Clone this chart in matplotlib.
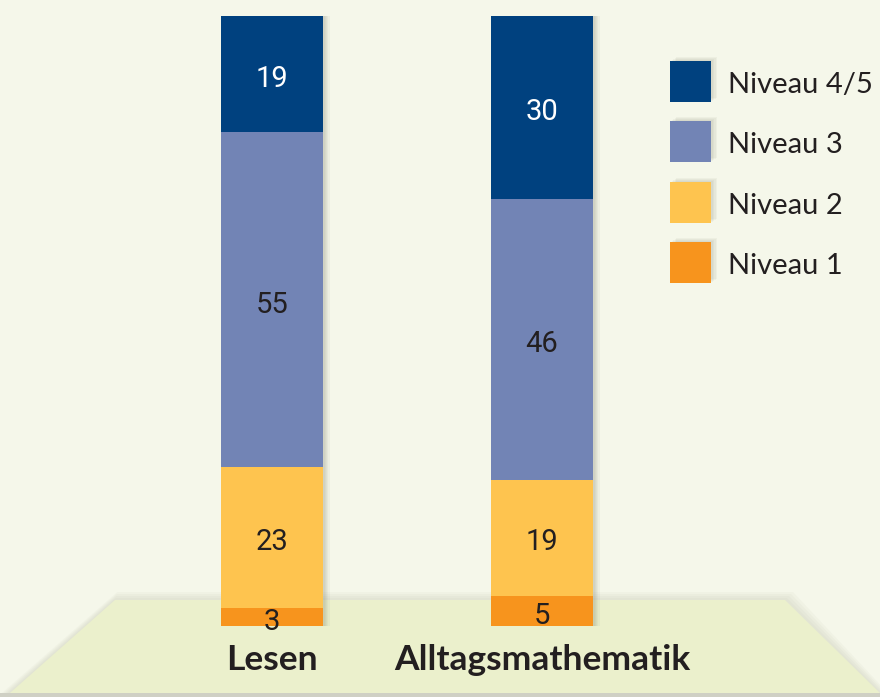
import matplotlib
matplotlib.use("Agg")
import matplotlib.pyplot as plt
from matplotlib.patches import Rectangle, Polygon
import numpy as np

# ---- data (percent of pupils per competence level) ----
categories = ["Lesen", "Alltagsmathematik"]
levels = ["Niveau 1", "Niveau 2", "Niveau 3", "Niveau 4/5"]
niveau_1 = [3, 5]
niveau_2 = [23, 19]
niveau_3 = [55, 46]
niveau_45 = [19, 30]
series = [niveau_1, niveau_2, niveau_3, niveau_45]

BG = "#f5f7ea"
FLOOR = "#ebf0cc"
COLORS = ["#f7941d", "#fec44f", "#7284b5", "#00417f"]
TXT_COLORS = ["#231f20", "#231f20", "#231f20", "white"]
DARK = "#231f20"

fig = plt.figure(figsize=(8.8, 6.97), dpi=100)
fig.patch.set_facecolor(BG)

# background axes in pixel coordinates (floor + legend)
bg = fig.add_axes([0, 0, 1, 1], zorder=0)
bg.set_xlim(0, 880)
bg.set_ylim(697, 0)
bg.axis("off")

# floor trapezoid with a soft shadow
for i in range(4):
    o = 2 + i * 2
    bg.add_patch(Polygon([(115 + o * 0.3, 600 - o), (785 + o, 600 - o),
                          (880 + o, 693), (10 - o, 693)],
                         closed=True, facecolor="#9a9c80", alpha=0.05,
                         edgecolor="none"))
bg.add_patch(Polygon([(115, 600), (785, 600), (880, 693), (10, 693)],
                     closed=True, facecolor=FLOOR, edgecolor="none"))
bg.add_patch(Rectangle((0, 693), 880, 4, facecolor="#cfd0c4", edgecolor="none"))

# legend (top to bottom: 4/5, 3, 2, 1)
row_y = [262, 202, 141, 81]
for lab, col, yc in zip(levels, COLORS, row_y):
    for k in range(4):
        o = 1.5 + k * 1.5
        bg.add_patch(Rectangle((670 + o, yc - 20.5 - o * 0.6), 41, 41,
                               facecolor="#6f715f", alpha=0.06,
                               edgecolor="none"))
    bg.add_patch(Rectangle((670, yc - 20.5), 41, 41, facecolor=col,
                           edgecolor="none"))
    bg.text(728, yc + 4, lab, fontsize=21, family="Lato", color=DARK,
            ha="left", va="center")

# bar axes: y 0..100 maps to pixel 626..16
ax = fig.add_axes([137 / 880, (697 - 626) / 697, 540 / 880, 610 / 697],
                  zorder=1)
ax.set_xlim(-0.5, 1.5)
ax.set_ylim(0, 100)
ax.axis("off")
ax.patch.set_alpha(0)

x = np.arange(len(categories))
width = 102 / 270
totals = np.sum(series, axis=0)

# soft drop shadow behind the bars
for k in range(5):
    dx = (1.5 + k * 1.3) / 270
    dy = (1 + k * 0.8) / 6.1
    ax.bar(x + dx, totals + dy, width, bottom=0, color="#6f715f",
           alpha=0.06, zorder=1, linewidth=0)

bottom = np.zeros(len(categories))
for vals, col, tcol in zip(series, COLORS, TXT_COLORS):
    ax.bar(x, vals, width, bottom=bottom, color=col, zorder=3, linewidth=0)
    for xi, b, v in zip(x, bottom, vals):
        ax.text(xi, b + v / 2 - 0.8, str(v), ha="center", va="center",
                fontsize=21, family="Roboto", color=tcol, zorder=4)
    bottom += vals

for xi, cat in zip(x, categories):
    ax.text(xi, -5.5, cat, ha="center", va="center", fontsize=25.5,
            family="Lato", fontweight="bold", color=DARK, clip_on=False)

fig.savefig("out.png", dpi=100, facecolor=BG)
